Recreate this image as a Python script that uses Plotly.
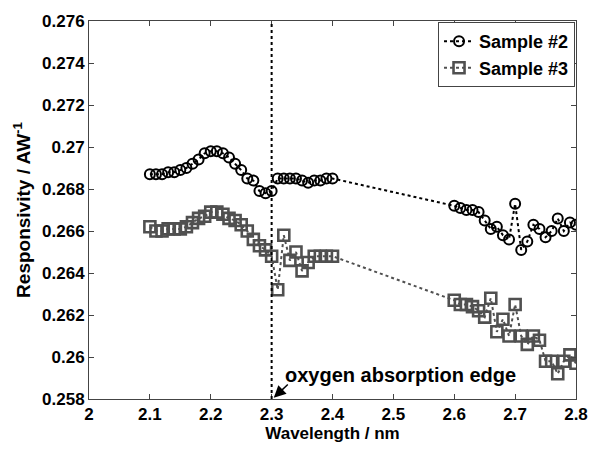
import plotly.graph_objects as go

# Sample #2 (circles)
s2_x = [2.10, 2.11, 2.12, 2.13, 2.14, 2.15, 2.16, 2.17, 2.18, 2.19, 2.20,
        2.21, 2.22, 2.23, 2.24, 2.25, 2.26, 2.27, 2.28, 2.29, 2.30,
        2.31, 2.32, 2.33, 2.34, 2.35, 2.36, 2.37, 2.38, 2.39, 2.40,
        2.60, 2.61, 2.62, 2.63, 2.64, 2.65, 2.66, 2.67, 2.68, 2.69, 2.70,
        2.71, 2.72, 2.73, 2.74, 2.75, 2.76, 2.77, 2.78, 2.79, 2.80]
s2_y = [0.2687, 0.2687, 0.2687, 0.2688, 0.2688, 0.2689, 0.2690, 0.2692, 0.2694, 0.2697, 0.2698,
        0.2698, 0.2697, 0.2695, 0.2692, 0.2689, 0.2685, 0.2684, 0.2679, 0.2678, 0.2679,
        0.2685, 0.2685, 0.2685, 0.2685, 0.2684, 0.2683, 0.2684, 0.2684, 0.2685, 0.2685,
        0.2672, 0.2671, 0.2670, 0.2670, 0.2669, 0.2665, 0.2661, 0.2662, 0.2658, 0.2656, 0.2673,
        0.2651, 0.2655, 0.2663, 0.2661, 0.2657, 0.2660, 0.2666, 0.2660, 0.2664, 0.2663]

# Sample #3 (squares)
s3_x = [2.10, 2.11, 2.12, 2.13, 2.14, 2.15, 2.16, 2.17, 2.18, 2.19, 2.20,
        2.21, 2.22, 2.23, 2.24, 2.25, 2.26, 2.27, 2.28, 2.29, 2.30,
        2.31, 2.32, 2.33, 2.34, 2.35, 2.36, 2.37, 2.38, 2.39, 2.40,
        2.60, 2.61, 2.62, 2.63, 2.64, 2.65, 2.66, 2.67, 2.68, 2.69, 2.70,
        2.71, 2.72, 2.73, 2.74, 2.75, 2.76, 2.77, 2.78, 2.79, 2.80]
s3_y = [0.2662, 0.2660, 0.2660, 0.2661, 0.2661, 0.2661, 0.2662, 0.2664, 0.2666, 0.2667, 0.2669,
        0.2669, 0.2668, 0.2666, 0.2665, 0.2663, 0.2660, 0.2656, 0.2653, 0.2651, 0.2648,
        0.2632, 0.2658, 0.2646, 0.2650, 0.2641, 0.2645, 0.2648, 0.2648, 0.2648, 0.2648,
        0.2627, 0.2625, 0.2625, 0.2624, 0.2622, 0.2619, 0.2628, 0.2612, 0.2618, 0.2610, 0.2625,
        0.2610, 0.2606, 0.2610, 0.2608, 0.2598, 0.2598, 0.2592, 0.2598, 0.2601, 0.2597]

x_ticks = [2, 2.1, 2.2, 2.3, 2.4, 2.5, 2.6, 2.7, 2.8]
x_tick_labels = ["2", "2.1", "2.2", "2.3", "2.4", "2.5", "2.6", "2.7", "2.8"]
y_ticks = [0.258, 0.26, 0.262, 0.264, 0.266, 0.268, 0.27, 0.272, 0.274, 0.276]
y_tick_labels = ["0.258", "0.26", "0.262", "0.264", "0.266", "0.268", "0.27", "0.272", "0.274", "0.276"]

edge_x = 2.3

FONT = "Liberation Sans, Arial, sans-serif"

fig = go.Figure()
fig.add_trace(go.Scatter(
    x=s2_x, y=s2_y, mode="lines+markers", name="Sample #2",
    line=dict(color="black", width=2, dash="dot"),
    marker=dict(symbol="circle-open", size=10, color="black", line=dict(width=2, color="black")),
))
fig.add_trace(go.Scatter(
    x=s3_x, y=s3_y, mode="lines+markers", name="Sample #3",
    line=dict(color="#505050", width=2, dash="dot"),
    marker=dict(symbol="square-open", size=11, color="#505050", line=dict(width=2.6, color="#505050")),
))

fig.add_shape(type="line", x0=edge_x, x1=edge_x, y0=0, y1=1, xref="x", yref="paper",
              line=dict(color="black", width=2, dash="dot"))

fig.add_annotation(x=2.511, y=0.25912, xref="x", yref="y", text="oxygen absorption edge",
                   showarrow=False, font=dict(family=FONT, size=20, color="black", weight="bold"))
fig.add_annotation(x=2.3035, y=0.25806, xref="x", yref="y", ax=2.329, ay=0.25876,
                   axref="x", ayref="y", text="", showarrow=True, arrowhead=2,
                   arrowsize=1.6, arrowwidth=1.5, arrowcolor="black")

axis_common = dict(
    showgrid=False, zeroline=False, showline=True, linecolor="#444444", linewidth=1,
    mirror="ticks", ticks="inside", ticklen=5, tickcolor="#444444",
    tickfont=dict(family=FONT, size=17, color="black", weight="bold"),
)

fig.update_layout(
    width=600, height=450,
    margin=dict(l=89, r=13, t=15, b=47),
    paper_bgcolor="white", plot_bgcolor="white",
    font=dict(family=FONT, color="black"),
    xaxis=dict(range=[2, 2.8], tickvals=x_ticks, ticktext=x_tick_labels,
               title=dict(text="Wavelength / nm", standoff=2,
                          font=dict(family=FONT, size=17, color="black", weight="bold")),
               **axis_common),
    yaxis=dict(range=[0.258, 0.276], tickvals=y_ticks, ticktext=y_tick_labels,
               title=dict(text="Responsivity / AW<sup>-1</sup>", standoff=6,
                          font=dict(family=FONT, size=19, color="black", weight="bold")),
               **axis_common),
    legend=dict(x=0.998, y=0.997, xanchor="right", yanchor="top",
                bgcolor="white", bordercolor="#444444", borderwidth=1,
                font=dict(family=FONT, size=18, color="black", weight="bold"),
                tracegroupgap=0, itemwidth=30),
    showlegend=True,
)

fig.write_html("out.html")
